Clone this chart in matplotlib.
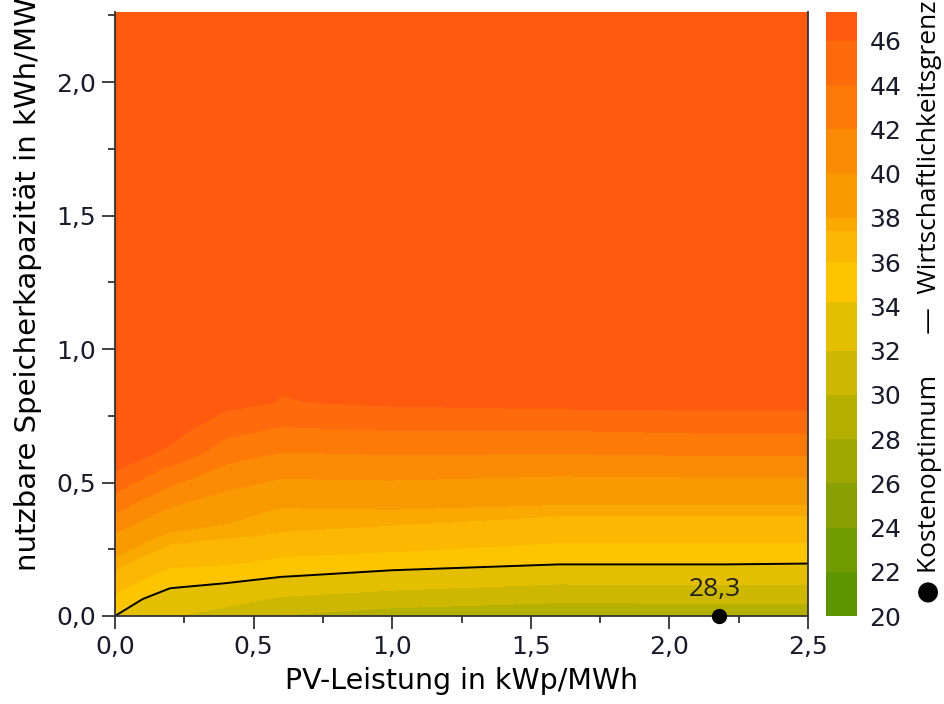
import numpy as np
import matplotlib
matplotlib.use("Agg")
import matplotlib.pyplot as plt
from matplotlib.colors import ListedColormap, BoundaryNorm
from matplotlib.ticker import MultipleLocator, FuncFormatter

pv_kwp = [0.0, 0.1, 0.2, 0.4, 0.6, 1.0, 1.6, 2.2, 2.5]
speicher_kwh = [0.0, 0.05, 0.1, 0.15, 0.2, 0.25, 0.3, 0.4, 0.5, 0.55, 0.6, 0.7, 0.8, 0.9, 1.2, 1.7, 2.27]

# Kosten (Zeilen = Speicher, Spalten = PV)
kosten = [
    [34.2, 33.2, 32.2, 31.0, 29.9, 29.2, 28.6, 28.3, 28.4],
    [35.3, 33.9, 33.1, 32.4, 31.3, 30.5, 30.0, 30.1, 30.1],
    [36.4, 35.0, 34.1, 33.6, 32.8, 32.1, 31.4, 31.5, 31.5],
    [37.2, 36.3, 35.3, 34.9, 34.3, 33.6, 32.9, 32.9, 32.9],
    [37.7, 37.1, 36.4, 36.2, 35.6, 35.0, 34.4, 34.4, 34.3],
    [38.4, 37.7, 37.2, 36.9, 36.5, 36.2, 35.5, 35.5, 35.5],
    [39.7, 38.4, 37.7, 37.5, 37.3, 37.0, 36.5, 36.5, 36.5],
    [42.4, 41.0, 39.8, 38.6, 37.9, 38.0, 37.7, 37.7, 37.7],
    [45.0, 43.6, 42.3, 40.6, 39.7, 39.8, 39.4, 39.5, 39.5],
    [46.2, 44.9, 43.5, 41.6, 40.7, 40.9, 40.6, 40.8, 40.8],
    [46.4, 46.2, 45.4, 42.6, 41.7, 41.9, 41.8, 42.0, 42.0],
    [46.6, 46.5, 46.8, 44.7, 43.8, 44.1, 44.1, 44.4, 44.4],
    [46.8, 46.7, 46.8, 46.6, 45.9, 46.3, 46.6, 46.7, 46.7],
    [46.9, 46.85, 46.9, 46.7, 46.3, 46.4, 46.7, 46.8, 46.8],
    [47.0, 47.0, 47.0, 46.9, 46.6, 46.6, 46.8, 46.9, 46.9],
    [47.2, 47.15, 47.1, 47.0, 46.9, 46.9, 47.0, 47.0, 47.0],
    [47.3, 47.25, 47.2, 47.2, 47.1, 47.1, 47.1, 47.1, 47.1],
]

grenze = 34.2          # Wirtschaftlichkeitsgrenze
optimum_pv = 2.18
optimum_speicher = 0.0
optimum_wert = "28,3"

stufen = [20, 22, 24, 26, 28, 30, 32, 34.2, 36, 37.4, 38, 40, 42, 44, 46, 47.3]
farben = ["#5c9500", "#729b00", "#88a100", "#9ea800", "#b5b000", "#cdb700",
          "#e4be00", "#fdc400", "#fbb701", "#f9a902", "#f99a03", "#fb8a05",
          "#fd7a08", "#ff6a0c", "#ff5a0f"]
cbar_ticks = [20, 22, 24, 26, 28, 30, 32, 34, 36, 38, 40, 42, 44, 46]

X, Y = np.meshgrid(pv_kwp, speicher_kwh)
Z = np.array(kosten)

cmap = ListedColormap(farben)
norm = BoundaryNorm(stufen, cmap.N)

fig = plt.figure(figsize=(9.44, 7.04), dpi=100)
ax = fig.add_axes([115 / 944, 1 - 616 / 704, (808 - 115) / 944, (616 - 12) / 704])
cax = fig.add_axes([826 / 944, 1 - 616 / 704, 31 / 944, (616 - 12) / 704])

cs = ax.contourf(X, Y, Z, levels=stufen, cmap=cmap, norm=norm)
ax.contour(X, Y, Z, levels=[grenze], colors="black", linewidths=1.4)

ax.plot(optimum_pv, optimum_speicher, "o", color="black", markersize=10, clip_on=False, zorder=10)
ax.annotate(optimum_wert, (optimum_pv - 0.017, optimum_speicher), xytext=(0, 19),
            textcoords="offset points", ha="center", va="center",
            fontsize=19, family="Open Sans", color="#222222")

ax.set_xlim(0, 2.5)
ax.set_ylim(0, 2.263)
fmt = FuncFormatter(lambda v, p: f"{v:.1f}".replace(".", ","))
ax.xaxis.set_major_locator(MultipleLocator(0.5))
ax.xaxis.set_minor_locator(MultipleLocator(0.25))
ax.yaxis.set_major_locator(MultipleLocator(0.5))
ax.yaxis.set_minor_locator(MultipleLocator(0.25))
ax.xaxis.set_major_formatter(fmt)
ax.yaxis.set_major_formatter(fmt)
ax.tick_params(which="major", length=9.5, width=1.3, color="#333333", labelsize=18,
               labelcolor="#1a1a2a", pad=4)
ax.tick_params(which="minor", length=5, width=1.3, color="#333333")
for s in ["left", "bottom", "right"]:
    ax.spines[s].set_linewidth(1.3)
    ax.spines[s].set_color("#333333")
ax.spines["top"].set_visible(False)

ax.set_xlabel("PV-Leistung in kWp/MWh", fontsize=20.5, labelpad=6)
fig.text(28 / 944, 1 - 571 / 704, "nutzbare Speicherkapazität in kWh/MWh",
         rotation=90, ha="center", va="bottom", fontsize=21)

cb = fig.colorbar(cs, cax=cax, spacing="proportional", ticks=cbar_ticks)
cb.outline.set_visible(False)
cb.ax.minorticks_off()
cb.ax.tick_params(which="both", length=0, labelsize=18, pad=9, labelcolor="#1a1a2a")

fig.text(930 / 944, 1 - 603 / 704, "● Kostenoptimum      —  Wirtschaftlichkeitsgrenze",
         rotation=90, ha="center", va="bottom", fontsize=19,
         family=["Open Sans", "DejaVu Sans"])

fig.savefig("out.png", dpi=100)
